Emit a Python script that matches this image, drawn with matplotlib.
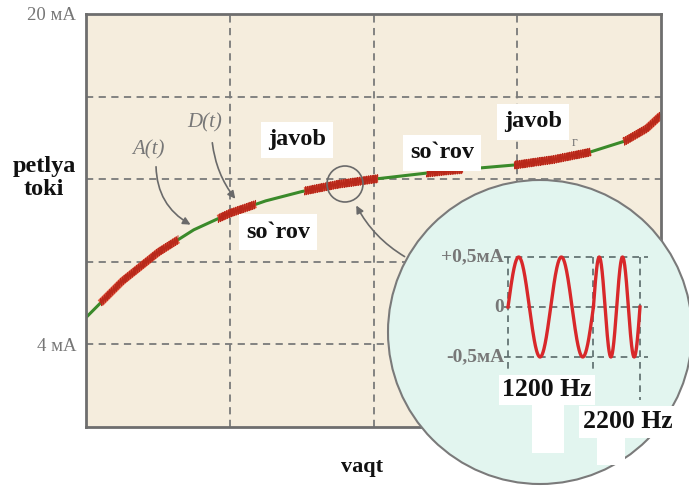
import matplotlib.pyplot as plt
import numpy as np
from matplotlib.patches import Circle, Rectangle, FancyArrowPatch

plt.rcParams['font.family'] = ['Liberation Serif', 'DejaVu Serif']

# loop current: time in grid divisions, current in mA
t_pts = [0.0, 0.25, 0.5, 0.75, 1.0, 1.25, 1.5, 1.75, 2.0, 2.25,
         2.5, 2.75, 3.0, 3.25, 3.5, 3.75, 3.9, 4.0]
i_pts = [5.3, 7.05, 8.45, 9.55, 10.35, 10.95, 11.4, 11.75, 12.0, 12.2,
         12.4, 12.55, 12.7, 12.95, 13.3, 13.85, 14.45, 15.1]

# HART bursts riding on the loop current
burst_start = [0.10, 0.92, 1.52, 2.37, 2.98, 3.74]
burst_end = [0.64, 1.18, 2.03, 2.62, 3.51, 4.0]

y_ticks = [4, 20]
y_tick_labels = ['4 мА', '20 мА']

# inset waveform
freqs = [1200, 2200]  # Hz
cycles = [2, 2]
amp = 0.5  # mA

W, H = 689, 488
fig = plt.figure(figsize=(W / 100, H / 100), dpi=100)

ax = fig.add_axes([86 / W, 1 - 427 / H, 575 / W, 413 / H])
ax.set_facecolor('#f5eddd')
ax.set_xlim(0, 4)
ax.set_ylim(0, 20)
for x in [1, 2, 3]:
    ax.axvline(x, color='#7a7a7a', ls=(0, (4, 3)), lw=1.3)
for y in [4, 8, 12, 16]:
    ax.axhline(y, color='#7a7a7a', ls=(0, (4, 3)), lw=1.3)
ax.set_xticks([])
ax.set_yticks(y_ticks, y_tick_labels)
ax.tick_params(length=0, labelsize=13.5, labelcolor='#767676', pad=7)
for s in ax.spines.values():
    s.set_color('#6e6e6e')
    s.set_linewidth(2)

ax.plot(t_pts, i_pts, color='#3a8a2a', lw=2.2)
for a, b in zip(burst_start, burst_end):
    tt = np.linspace(a, b, 500)
    base = np.interp(tt, t_pts, i_pts)
    ax.plot(tt, base, color='#e2432a', lw=5.5, alpha=0.85, solid_capstyle='butt')
    ax.plot(tt, base + 0.2 * np.sin(2 * np.pi * tt * 80), color='#b8281a', lw=0.7)

# overlay in pixel coordinates for the annotations and the magnifier
ov = fig.add_axes([0, 0, 1, 1], zorder=2)
ov.set_xlim(0, W)
ov.set_ylim(H, 0)
ov.axis('off')

box = dict(boxstyle='square,pad=0.3', fc='white', ec='none')
bold = dict(fontsize=17.5, fontweight='bold', color='#111111', ha='center', va='center')
ov.text(297, 140, 'javob', bbox=box, **bold)
ov.text(278, 232, 'so`rov', bbox=box, **bold)
ov.text(442, 153, 'so`rov', bbox=box, **bold)
ov.text(533, 122, 'javob', bbox=box, **bold)
ov.text(575, 143, 'г', fontsize=10, color='#777777', ha='center', va='center')
ov.text(44, 178, 'petlya\ntoki', linespacing=1.1, **bold)
ov.text(362, 467, 'vaqt', fontsize=16, fontweight='bold', color='#111111',
        ha='center', va='center')

ov.text(148, 150, 'A(t)', fontsize=15, style='italic', color='#777777', ha='center', va='center')
ov.text(205, 123, 'D(t)', fontsize=15, style='italic', color='#777777', ha='center', va='center')

arr = dict(arrowstyle='-|>', mutation_scale=11, color='#6a6a6a', lw=1.2)
ov.add_patch(FancyArrowPatch((156, 164), (193, 226), connectionstyle='arc3,rad=0.3', **arr))
ov.add_patch(FancyArrowPatch((212, 140), (237, 201), connectionstyle='arc3,rad=0.15', **arr))
ov.add_patch(FancyArrowPatch((407, 258), (355, 203), connectionstyle='arc3,rad=-0.15', **arr))

ov.add_patch(Circle((345, 184), 18, fill=False, ec='#6a6a6a', lw=1.2))
ov.add_patch(Circle((540, 332), 152, fc='#e2f5ef', ec='#7a7a7a', lw=1.5))

ov.add_patch(Rectangle((532, 405), 32, 48, fc='white', ec='none'))
ov.add_patch(Rectangle((597, 435), 28, 30, fc='white', ec='none'))
ov.text(547, 390, '1200 Hz', fontsize=18.5, fontweight='bold', color='#111111',
        ha='center', va='center', bbox=dict(boxstyle='square,pad=0.12', fc='white', ec='none'))
ov.text(628, 422, '2200 Hz', fontsize=18.5, fontweight='bold', color='#111111',
        ha='center', va='center', bbox=dict(boxstyle='square,pad=0.18', fc='white', ec='none'))

# inset: FSK waveform, time in ms
ins = fig.add_axes([508 / W, 1 - 357 / H, 132 / W, 100 / H], zorder=3)
ins.axis('off')
t0 = 0.0
bounds = [0.0]
for f, n in zip(freqs, cycles):
    dur = n / f * 1000
    tt = np.linspace(t0, t0 + dur, 300)
    ins.plot(tt, amp * np.sin(2 * np.pi * f * (tt - t0) / 1000), color='#d8282a',
             lw=2.4, clip_on=False, zorder=3)
    t0 += dur
    bounds.append(t0)
T = bounds[-1]
ins.set_xlim(0, T)
ins.set_ylim(-amp, amp)
dash = dict(color='#5a6a6a', ls=(0, (4, 3)), lw=1.2, clip_on=False, zorder=2)
for y in [-amp, 0, amp]:
    ins.plot([-0.03 * T, 1.06 * T], [y, y], **dash)
for x, y_low in zip(bounds, [-0.62, -0.62, -0.93]):
    ins.plot([x, x], [amp, y_low], **dash)
for y, lab in zip([amp, 0, -amp], ['+0,5мА', '0', '-0,5мА']):
    ins.text(-0.03 * T, y, lab, fontsize=14, fontweight='bold', color='#777777',
             ha='right', va='center')

fig.savefig('out.png', dpi=100)
